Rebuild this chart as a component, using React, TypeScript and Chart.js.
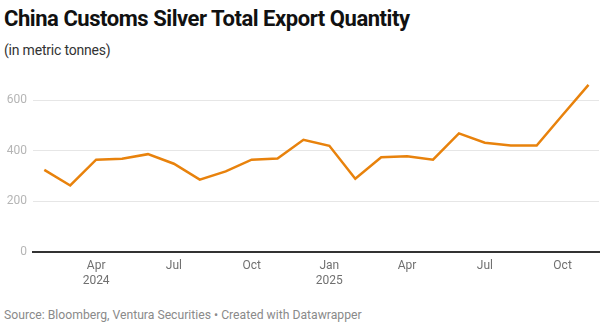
import React, { useEffect, useRef } from "react";
import { Chart, registerables } from "chart.js";

Chart.register(...registerables);

const months = [
  "Feb 2024", "Mar 2024", "Apr 2024", "May 2024", "Jun 2024", "Jul 2024",
  "Aug 2024", "Sep 2024", "Oct 2024", "Nov 2024", "Dec 2024", "Jan 2025",
  "Feb 2025", "Mar 2025", "Apr 2025", "May 2025", "Jun 2025", "Jul 2025",
  "Aug 2025", "Sep 2025", "Oct 2025", "Nov 2025",
];
const exportQty = [
  325, 263, 365, 369, 387, 349, 286, 319, 365, 370, 444, 420,
  290, 375, 379, 365, 469, 432, 421, 421, 542, 661,
];
const xTickIndex = [2, 5, 8, 11, 14, 17, 20];
const xTickLabels: (string | string[])[] = [
  ["Apr", "2024"], "Jul", "Oct", ["Jan", "2025"], "Apr", "Jul", "Oct",
];
const yTicks = [0, 200, 400, 600];

const FONT = "Roboto, 'Noto Sans', sans-serif";

export default function App() {
  const ref = useRef<HTMLCanvasElement | null>(null);

  useEffect(() => {
    if (!ref.current) return;
    const chart = new Chart(ref.current, {
      type: "line",
      data: {
        labels: months,
        datasets: [
          {
            label: "Export quantity",
            data: exportQty.map((v, i) => ({ x: i, y: v })),
            borderColor: "#e8820c",
            borderWidth: 2.5,
            pointRadius: 0,
            tension: 0,
            fill: false,
          },
        ],
      },
      options: {
        animation: false,
        responsive: false,
        maintainAspectRatio: false,
        layout: { padding: { top: 15, right: 5, left: 0, bottom: 0 } },
        plugins: {
          legend: { display: false },
          tooltip: { enabled: false },
          title: { display: false },
        },
        scales: {
          x: {
            type: "linear",
            min: -0.436,
            max: 21.405,
            afterBuildTicks: (s: any) => {
              s.ticks = xTickIndex.map((v) => ({ value: v }));
            },
            afterFit: (s: any) => {
              s.height = 40;
            },
            ticks: {
              autoSkip: false,
              maxRotation: 0,
              padding: 7,
              color: "#707070",
              font: { family: FONT, size: 12 },
              callback: (v: any) => {
                const i = xTickIndex.indexOf(Number(v));
                return i >= 0 ? xTickLabels[i] : "";
              },
            },
            grid: { display: false, drawTicks: false },
            border: { display: true, color: "#333333", width: 2 },
          },
          y: {
            type: "linear",
            min: 0,
            max: 700,
            afterBuildTicks: (s: any) => {
              s.ticks = yTicks.map((v) => ({ value: v }));
            },
            afterFit: (s: any) => {
              s.width = 33;
            },
            ticks: {
              padding: 6,
              color: "#b5b5b5",
              font: { family: FONT, size: 12 },
            },
            grid: {
              drawTicks: false,
              color: (ctx: any) =>
                ctx.tick && ctx.tick.value === 0 ? "rgba(0,0,0,0)" : "#e6e6e6",
              lineWidth: 1,
            },
            border: { display: false },
          },
        },
      },
    });
    return () => chart.destroy();
  }, []);

  return (
    <div
      style={{
        position: "absolute",
        left: 0,
        top: 0,
        width: 604,
        height: 328,
        background: "#ffffff",
        fontFamily: FONT,
        overflow: "hidden",
      }}
    >
      <div
        style={{
          position: "absolute",
          left: 4,
          top: 6,
          fontSize: 22,
          fontWeight: 700,
          color: "#111111",
          whiteSpace: "nowrap",
          letterSpacing: -0.45,
        }}
      >
        China Customs Silver Total Export Quantity
      </div>
      <div
        style={{
          position: "absolute",
          left: 4,
          top: 42,
          fontSize: 14,
          letterSpacing: -0.2,
          color: "#333333",
          whiteSpace: "nowrap",
        }}
      >
        (in metric tonnes)
      </div>
      <canvas
        ref={ref}
        width={604}
        height={232}
        style={{ position: "absolute", left: 0, top: 60, width: 604, height: 232 }}
      />
      <div
        style={{
          position: "absolute",
          left: 4,
          top: 308,
          fontSize: 12.2,
          color: "#8a8a8a",
          whiteSpace: "nowrap",
        }}
      >
        Source: Bloomberg, Ventura Securities • Created with Datawrapper
      </div>
    </div>
  );
}
